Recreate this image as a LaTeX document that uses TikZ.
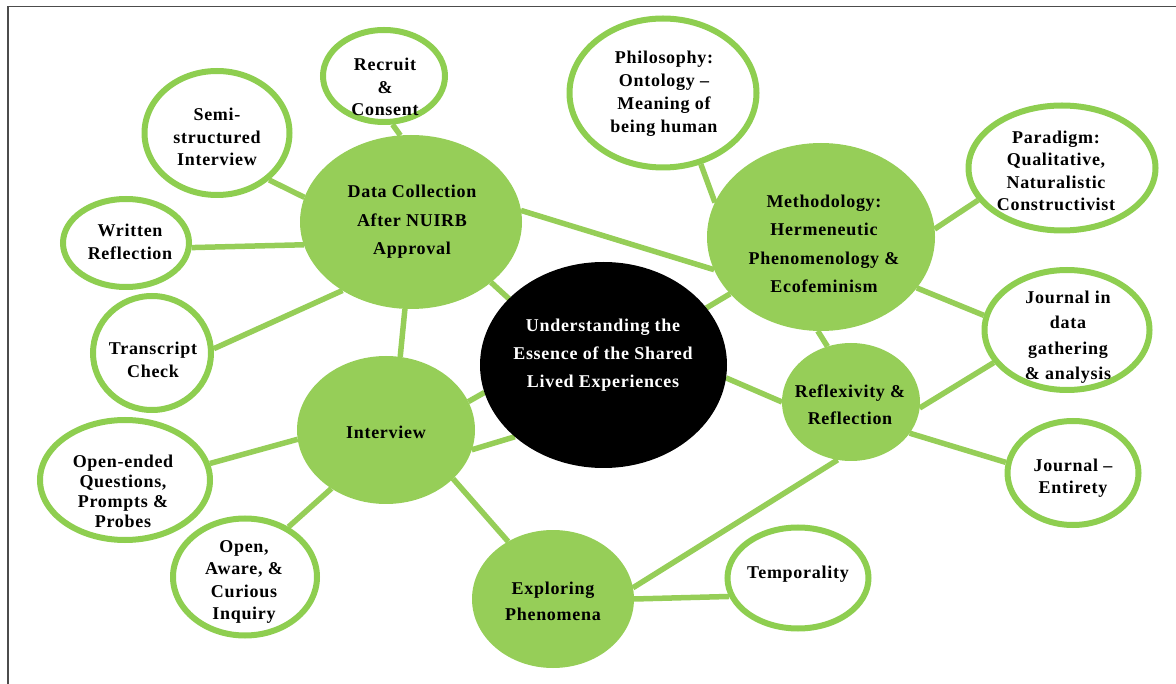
\documentclass[tikz,border=0pt]{standalone}
\usepackage{fontspec}
\setmainfont{Liberation Serif}[LetterSpace=4]
\usetikzlibrary{shapes.geometric,backgrounds}
\definecolor{lgreen}{RGB}{150,206,88}
\definecolor{ogreen}{RGB}{142,206,80}
\begin{document}
\begin{tikzpicture}[x=1pt,y=-1pt,
  gnode/.style={ellipse, fill=lgreen, inner sep=0pt, outer sep=0pt},
  wnode/.style={ellipse, draw=ogreen, line width=6pt, fill=white, inner sep=0pt},
  cnode/.style={ellipse, fill=black, inner sep=0pt, outer sep=0pt},
  conn/.style={draw=lgreen, line width=5.5pt},
  lbl/.style={align=center, inner sep=0pt, font=\bfseries\fontsize{18}{22.5}\selectfont},
  glbl/.style={lbl, font=\bfseries\fontsize{18}{28.5}\selectfont},
  frame/.style={draw=black!70, line width=1.3pt}]
\useasboundingbox (0,0) rectangle (1176,684);
\coordinate (fbl) at (8,684);
\coordinate (ftl) at (8,6.5);
\coordinate (ftr) at (1176,6.5);
\draw[frame] (fbl) -- (ftl) -- (ftr);

% main nodes
\node[cnode, minimum width=247pt, minimum height=206pt] (c) at (603.5,365) {};
\node[gnode, minimum width=222pt, minimum height=174pt] (dc) at (411,222) {};
\node[gnode, minimum width=228pt, minimum height=188pt] (m) at (821,237) {};
\node[gnode, minimum width=178pt, minimum height=148pt] (iv) at (386,430) {};
\node[gnode, minimum width=138pt, minimum height=118pt] (rf) at (851,402) {};
\node[gnode, minimum width=162pt, minimum height=138pt] (ex) at (553,599) {};

% outer nodes
\node[wnode, minimum width=122pt, minimum height=92pt] (rec) at (384,76) {};
\node[wnode, minimum width=145pt, minimum height=124pt] (semi) at (217,133) {};
\node[wnode, minimum width=126pt, minimum height=88pt] (wr) at (126,243) {};
\node[wnode, minimum width=118pt, minimum height=114pt] (tr) at (152,353) {};
\node[wnode, minimum width=170pt, minimum height=120pt] (oe) at (125,480) {};
\node[wnode, minimum width=144pt, minimum height=117pt] (oa) at (245,577) {};
\node[wnode, minimum width=141pt, minimum height=101pt] (tmp) at (798,578) {};
\node[wnode, minimum width=131pt, minimum height=104pt] (ent) at (1073,473) {};
\node[wnode, minimum width=165pt, minimum height=120pt] (jd) at (1067,330) {};
\node[wnode, minimum width=187pt, minimum height=125pt] (par) at (1062,168) {};
\node[wnode, minimum width=187pt, minimum height=149pt] (phil) at (663,93) {};

% labels
\node[lbl, text=white, font=\bfseries\fontsize{18}{28}\selectfont] (cT) at (603,355) {Understanding the\\Essence of the Shared\\Lived Experiences};
\node[glbl] (dcT) at (412,222) {Data Collection\\After NUIRB\\Approval};
\node[glbl] (mT) at (824,244) {Methodology:\\Hermeneutic\\Phenomenology \&\\Ecofeminism};
\node[glbl] (ivT) at (386,432) {Interview};
\node[glbl, font=\bfseries\fontsize{18}{27}\selectfont] (rfT) at (850,405) {Reflexivity \&\\Reflection};
\node[glbl, font=\bfseries\fontsize{18}{26}\selectfont] (exT) at (553,601) {Exploring\\Phenomena};
\node[lbl] (recT) at (385,87) {Recruit\\\&\\Consent};
\node[lbl] (semiT) at (217,137) {Semi-\\structured\\Interview};
\node[lbl] (wrT) at (130,242) {Written\\Reflection};
\node[lbl] (trT) at (153,360) {Transcript\\Check};
\node[lbl, font=\bfseries\fontsize{18}{20}\selectfont] (oeT) at (123,491) {Open-ended\\Questions,\\Prompts \&\\Probes};
\node[lbl] (oaT) at (244,582) {Open,\\Aware, \&\\Curious\\Inquiry};
\node[lbl] (tmpT) at (798,574) {Temporality};
\node[lbl] (entT) at (1073,478) {Journal --\\Entirety};
\node[lbl, font=\bfseries\fontsize{18}{25.5}\selectfont] (jdT) at (1068,337) {Journal in\\data\\gathering\\\& analysis};
\node[lbl] (parT) at (1056,171) {Paradigm:\\Qualitative,\\Naturalistic\\Constructivist};
\node[lbl, font=\bfseries\fontsize{18}{23}\selectfont] (philT) at (664,94) {Philosophy:\\Ontology --\\Meaning of\\being human};

% connectors
\begin{pgfonlayer}{background}
\draw[conn] (dc.6) -- (m.197);
\draw[conn] (dc.-37) -- (c.145);
\draw[conn] (rec.-80) -- (dc.97);
\draw[conn] (semi.-42) -- (dc.167);
\draw[conn] (wr.-4) -- (dc.192);
\draw[conn] (tr.4) -- (dc.225);
\draw[conn] (dc.266) -- (iv.79);
\draw[conn] (phil.-62) -- (m.162);
\draw[conn] (m.4) -- (par.201);
\draw[conn] (m.-28) -- (jd.170);
\draw[conn] (m.-92) -- (rf.113);
\draw[conn] (m.212) -- (c.29);
\draw[conn] (c.-6) -- (rf.180);
\draw[conn] (rf.-5) -- (jd.204);
\draw[conn] (rf.-28) -- (ent.171);
\draw[conn] (rf.257) -- (ex.8);
\draw[conn] (ex.0) -- (tmp.195);
\draw[conn] (iv.-36) -- (ex.128);
\draw[conn] (iv.186) -- (oe.11);
\draw[conn] (iv.227) -- (oa.49);
\draw[conn] (iv.19) -- (c.193);
\draw[conn] (iv.-13) -- (c.219);
\end{pgfonlayer}
\end{tikzpicture}
\end{document}
